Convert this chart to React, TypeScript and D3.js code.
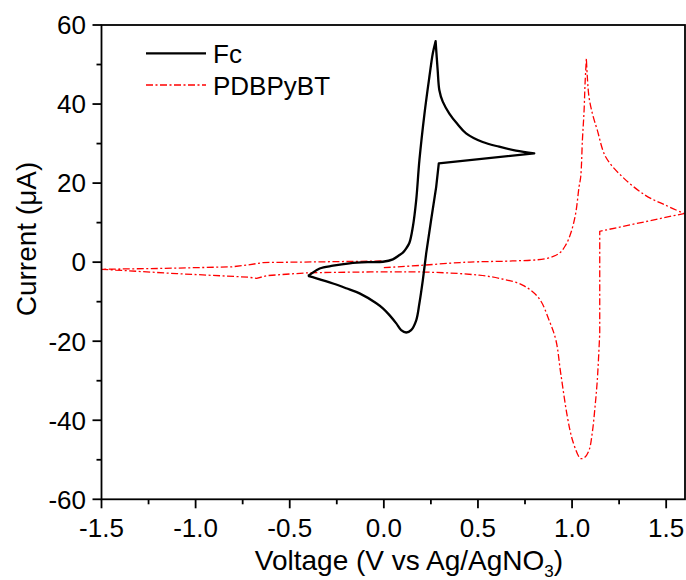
import React from "react";
import * as d3 from "d3";

const fcV = [-0.403, -0.385, -0.341, -0.27, -0.182, -0.08, -0.005, 0.048, 0.083, 0.101, 0.119, 0.136, 0.154, 0.172, 0.189, 0.216, 0.242, 0.26, 0.275,
  0.286, 0.295, 0.313, 0.348, 0.39, 0.437, 0.525, 0.613, 0.702, 0.799,
  0.292, 0.278, 0.251, 0.225, 0.207, 0.189, 0.172, 0.145, 0.119, 0.092, 0.066, 0.03, -0.005, -0.04, -0.129, -0.2, -0.27, -0.358, -0.403];
const fcI = [-3.5, -2.9, -1.6, -0.9, -0.3, 0.0, 0.1, 0.7, 1.8, 2.4, 3.5, 4.9, 8.9, 15.7, 25.8, 37.6, 46.9, 52.8, 55.9,
  48.6, 43.5, 40.6, 37.6, 35.0, 32.6, 30.4, 29.2, 28.2, 27.5,
  25.0, 19.0, 10.6, 2.2, -4.6, -10.4, -14.7, -17.2, -17.8, -17.2, -15.5, -13.4, -11.7, -10.4, -7.9, -6.6, -5.4, -4.1, -3.5];

const pbV = [0.0, 0.2, 0.404, 0.506, 0.684, 0.86, 0.931, 0.966, 0.993, 1.019, 1.037, 1.046, 1.055, 1.064, 1.069, 1.076,
  1.081, 1.09, 1.108, 1.134, 1.179, 1.267, 1.39, 1.497, 1.594,
  1.147, 1.147, 1.134, 1.122, 1.107, 1.09, 1.065, 1.046, 1.037, 1.002, 0.975, 0.94, 0.914, 0.878, 0.825, 0.737, 0.613, 0.506, 0.207, -0.41, -0.62, -0.676, -0.72, -1.1, -1.5,
  -1.2, -0.81, -0.72, -0.641, -0.3, 0.0];
const pbI = [-1.4, -0.8, -0.1, 0.1, 0.3, 0.9, 2.2, 4.3, 7.3, 12.3, 19.0, 21.6, 30.9, 38.5, 45.2, 51.5,
  46.9, 41.8, 37.6, 33.4, 26.6, 21.6, 16.9, 14.4, 12.3,
  7.8, -18, -29.9, -36.6, -43.3, -47.6, -49.5, -49.7, -49.3, -45, -39.1, -28.2, -19.7, -14.7, -9.2, -5.8, -4.1, -3.3, -2.5, -2.7, -3.4, -4.1, -3.8, -2.9, -1.8,
  -1.6, -1.2, -0.7, -0.1, 0.1, 0.3];

const xMajor = [-1.5, -1.0, -0.5, 0.0, 0.5, 1.0, 1.5];
const xMinor = [-1.25, -0.75, -0.25, 0.25, 0.75, 1.25];
const yMajor = [60, 40, 20, 0, -20, -40, -60];
const yMinor = [50, 30, 10, -10, -30, -50];

const legendNames = ["Fc", "PDBPyBT"];

type P = [number, number];

export default function App() {
  const W = 686, H = 580;
  const L = 101.5, R = 685, T = 25, B = 499.3;
  const x = d3.scaleLinear().domain([-1.5, 1.6]).range([L, R]);
  const y = d3.scaleLinear().domain([-60, 60]).range([B, T]);
  const smooth = d3.line<P>().x(d => x(d[0])).y(d => y(d[1])).curve(d3.curveCatmullRom.alpha(0.5));
  const straight = d3.line<P>().x(d => x(d[0])).y(d => y(d[1])).curve(d3.curveLinear);

  // build one continuous path from pieces; each piece [start, end, smooth?]
  const build = (pts: P[], pieces: [number, number, boolean][]) => {
    let d = "";
    pieces.forEach(([a, b, s], k) => {
      const seg = (s ? smooth : straight)(pts.slice(a, b + 1)) || "";
      d += k === 0 ? seg : seg.replace(/^M/, "L");
    });
    return d;
  };

  const fcPts: P[] = fcV.map((v, i) => [v, fcI[i]]);
  const pbPts: P[] = pbV.map((v, i) => [v, pbI[i]]);
  const fcD = build(fcPts, [[0, 18, true], [18, 28, true], [28, 29, false], [29, 33, false], [33, fcPts.length - 1, true]]);
  const pbD = build(pbPts, [[0, 15, true], [15, 24, true], [24, 25, false], [25, 26, false], [26, 44, true], [44, pbPts.length - 1, false]]);

  const font = "Arial, 'Liberation Sans', sans-serif";
  return (
    <svg width={W} height={H} style={{ position: "absolute", left: 0, top: 0, background: "#fff" }} fontFamily={font}>
      <defs>
        <clipPath id="clip"><rect x={L} y={T} width={R - L} height={B - T} /></clipPath>
      </defs>
      <g clipPath="url(#clip)">
        <path d={pbD} fill="none" stroke="#ff0000" strokeWidth={1.3} strokeDasharray="7,2.5,2,2.5" strokeLinejoin="round" />
        <path d={fcD} fill="none" stroke="#000" strokeWidth={2.3} strokeLinejoin="round" />
      </g>
      <rect x={L} y={T} width={R - L} height={B - T} fill="none" stroke="#000" strokeWidth={1.8} />
      {xMajor.map(v => (
        <g key={"xm" + v}>
          <line x1={x(v)} x2={x(v)} y1={B} y2={B + 9} stroke="#000" strokeWidth={1.8} />
          <text x={x(v)} y={537} textAnchor="middle" fontSize={26}>{v.toFixed(1)}</text>
        </g>
      ))}
      {xMinor.map(v => (
        <line key={"xn" + v} x1={x(v)} x2={x(v)} y1={B} y2={B + 5} stroke="#000" strokeWidth={1.8} />
      ))}
      {yMajor.map(v => (
        <g key={"ym" + v}>
          <line x1={L - 9} x2={L} y1={y(v)} y2={y(v)} stroke="#000" strokeWidth={1.8} />
          <text x={86} y={y(v) + 9.3} textAnchor="end" fontSize={26}>{String(v)}</text>
        </g>
      ))}
      {yMinor.map(v => (
        <line key={"yn" + v} x1={L - 5} x2={L} y1={y(v)} y2={y(v)} stroke="#000" strokeWidth={1.8} />
      ))}
      <text x={409} y={570} textAnchor="middle" fontSize={28}>
        Voltage (V vs Ag/AgNO<tspan fontSize={17} dy={7}>3</tspan><tspan dy={-7}>)</tspan>
      </text>
      <text transform="translate(36,239) rotate(-90)" textAnchor="middle" fontSize={28}>Current (μA)</text>
      <line x1={146} x2={206} y1={53.3} y2={53.3} stroke="#000" strokeWidth={2.3} />
      <text x={213} y={63.3} fontSize={26}>{legendNames[0]}</text>
      <line x1={146} x2={206} y1={85} y2={85} stroke="#ff0000" strokeWidth={1.3} strokeDasharray="7,2.5,2,2.5" />
      <text x={213} y={95} fontSize={26}>{legendNames[1]}</text>
    </svg>
  );
}
